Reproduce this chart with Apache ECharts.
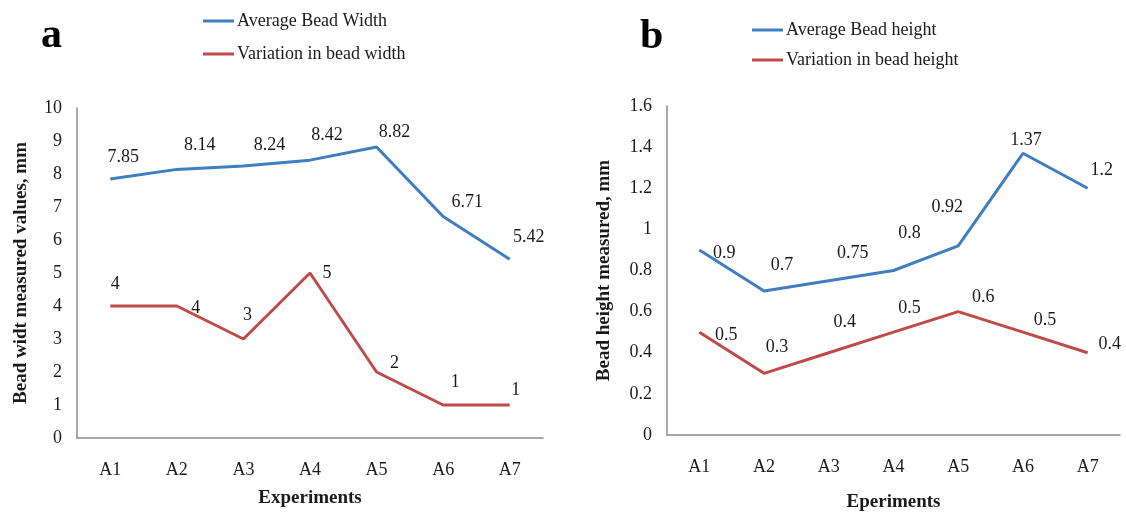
<!DOCTYPE html>
<html>
<head>
<meta charset="utf-8">
<script src="https://cdn.jsdelivr.net/npm/echarts@6/dist/echarts.min.js"></script>
<style>
  html, body { margin: 0; padding: 0; background: #fff; }
  #chart { width: 1126px; height: 513px; }
</style>
</head>
<body>
<div id="chart"></div>
<script>
// Experiments on the horizontal axis of both panels
const experiments = ['A1', 'A2', 'A3', 'A4', 'A5', 'A6', 'A7'];

// Panel a: bead width (mm)
const avgBeadWidth = [7.85, 8.14, 8.24, 8.42, 8.82, 6.71, 5.42];
const variationBeadWidth = [4, 4, 3, 5, 2, 1, 1];

// Panel b: bead height (mm)
const avgBeadHeight = [0.9, 0.7, 0.75, 0.8, 0.92, 1.37, 1.2];
const variationBeadHeight = [0.5, 0.3, 0.4, 0.5, 0.6, 0.5, 0.4];

// Tick labels of the value axes
const widthTicks = [0, 1, 2, 3, 4, 5, 6, 7, 8, 9, 10];
const heightTicks = ['0', '0.2', '0.4', '0.6', '0.8', '1', '1.2', '1.4', '1.6'];

// Data label offsets (px, from the point) so labels sit clear of the lines
const offAvgW = [[13, -22], [23, -24], [26, -21], [17, -25], [18, -15], [24, -14], [19, -22]];
const offVarW = [[5, -22], [19, 2], [4, -24], [17, 0], [18, -9], [12, -23], [6, -15]];
const offAvgH = [[25, 3], [18, -26], [24, -28], [16, -37], [-11, -39], [3, -13], [14, -18]];
const offVarH = [[27, 3], [13, -26], [16, -30], [16, -24], [25, -14], [22, -12], [22, -8]];

const SERIF = '"Liberation Serif", "Times New Roman", serif';
const BLUE = '#3f7fc0';
const RED = '#be4b48';
const AXIS = '#8c8c8c';
const TEXT = '#1a1a1a';

function withLabels(values, offsets) {
  return values.map((v, i) => ({
    value: v,
    label: { offset: offsets[i] }
  }));
}

function lineSeries(name, values, offsets, color, axisIndex) {
  return {
    name: name,
    type: 'line',
    xAxisIndex: axisIndex,
    yAxisIndex: axisIndex,
    data: withLabels(values, offsets),
    symbol: 'circle',
    symbolSize: 0,
    showSymbol: true,
    lineStyle: { color: color, width: 3 },
    itemStyle: { color: color },
    label: {
      show: true,
      position: 'inside',
      fontFamily: SERIF,
      fontSize: 18,
      color: TEXT
    },
    emphasis: { disabled: true },
    animation: false
  };
}

function catAxis(gridIndex, name, nameGap) {
  return {
    type: 'category',
    gridIndex: gridIndex,
    data: experiments,
    boundaryGap: true,
    axisLine: { lineStyle: { color: AXIS, width: 1.5 } },
    axisTick: { show: false },
    axisLabel: { fontFamily: SERIF, fontSize: 18, color: TEXT, margin: 23 },
    name: name,
    nameLocation: 'middle',
    nameGap: nameGap,
    nameTextStyle: { fontFamily: SERIF, fontSize: 19, fontWeight: 'bold', color: TEXT }
  };
}

function valAxis(gridIndex, name, nameGap, max, interval, ticks) {
  return {
    type: 'value',
    gridIndex: gridIndex,
    min: 0,
    max: max,
    interval: interval,
    axisLine: { show: true, lineStyle: { color: AXIS, width: 1.5 } },
    axisTick: { show: false },
    splitLine: { show: false },
    axisLabel: {
      fontFamily: SERIF, fontSize: 18, color: TEXT, margin: 15,
      formatter: (v) => {
        const idx = Math.round(v / interval);
        return ticks[idx] !== undefined ? String(ticks[idx]) : '';
      }
    },
    name: name,
    nameLocation: 'middle',
    nameGap: nameGap,
    nameTextStyle: { fontFamily: SERIF, fontSize: 19, fontWeight: 'bold', color: TEXT }
  };
}

const chart = echarts.init(document.getElementById('chart'), null, { renderer: 'canvas' });

chart.setOption({
  backgroundColor: '#ffffff',
  animation: false,
  title: [
    { text: 'a', left: 41, top: 15, padding: 0,
      textStyle: { fontFamily: SERIF, fontSize: 42, fontWeight: 'bold', color: '#000' } },
    { text: 'b', left: 640, top: 16, padding: 0,
      textStyle: { fontFamily: SERIF, fontSize: 42, fontWeight: 'bold', color: '#000' } }
  ],
  legend: [
    {
      data: ['Average Bead Width', 'Variation in bead width'],
      orient: 'vertical', left: 203, top: 12, padding: 0,
      icon: 'rect', itemWidth: 31, itemHeight: 3, itemGap: 15,
      textStyle: { fontFamily: SERIF, fontSize: 18, color: TEXT, padding: [0, 0, 0, -2] },
      selectedMode: false
    },
    {
      data: ['Average Bead height', 'Variation in bead height'],
      orient: 'vertical', left: 752, top: 21, padding: 0,
      icon: 'rect', itemWidth: 31, itemHeight: 3, itemGap: 12,
      textStyle: { fontFamily: SERIF, fontSize: 18, color: TEXT, padding: [0, 0, 0, -2] },
      selectedMode: false
    }
  ],
  grid: [
    { left: 77, right: 583, top: 108, bottom: 75, outerBoundsMode: 'none' },
    { left: 667, right: 6, top: 106, bottom: 78, outerBoundsMode: 'none' }
  ],
  xAxis: [
    catAxis(0, 'Experiments', 51),
    catAxis(1, 'Eperiments', 58)
  ],
  yAxis: [
    valAxis(0, 'Bead widt measured values, mm', 46, 10, 1, widthTicks),
    valAxis(1, 'Bead height measured, mm', 53, 1.6, 0.2, heightTicks)
  ],
  series: [
    lineSeries('Average Bead Width', avgBeadWidth, offAvgW, BLUE, 0),
    lineSeries('Variation in bead width', variationBeadWidth, offVarW, RED, 0),
    lineSeries('Average Bead height', avgBeadHeight, offAvgH, BLUE, 1),
    lineSeries('Variation in bead height', variationBeadHeight, offVarH, RED, 1)
  ]
});
</script>
</body>
</html>
